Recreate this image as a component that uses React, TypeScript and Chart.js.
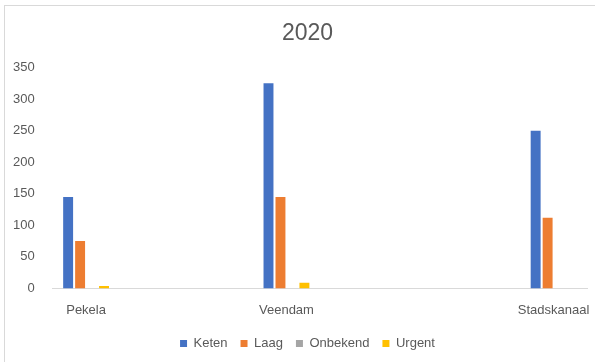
import React, { useEffect, useRef } from "react";
import Chart from "chart.js/auto";

const chartTitle = "2020";
const categories = ["Pekela", "", "", "Veendam", "", "", "", "Stadskanaal"];
const seriesNames = ["Keten", "Laag", "Onbekend", "Urgent"];
const keten = [145, null, null, 325, null, null, null, 250];
const laag = [75, null, null, 145, null, null, null, 112];
const onbekend = [0, null, null, 0, null, null, null, 0];
const urgent = [4, null, null, 9, null, null, null, 0];
const yMin = 0;
const yMax = 350;
const yStep = 50;

const colors = ["#4472C4", "#ED7D31", "#A5A5A5", "#FFC000"];
const FONT = "'Liberation Sans', Arial, sans-serif";
const TEXT = "#595959";
const CANVAS_W = 612;
const CANVAS_H = 362;

const frame = {
  id: "frame",
  beforeDraw(chart: any) {
    const { ctx, width, height } = chart;
    ctx.save();
    ctx.fillStyle = "#ffffff";
    ctx.fillRect(0, 0, width, height);
    ctx.restore();
  },
  afterDraw(chart: any) {
    const { ctx } = chart;
    ctx.save();
    ctx.strokeStyle = "#d9d9d9";
    ctx.lineWidth = 1;
    ctx.strokeRect(4.5, 5.5, 800, 800);
    ctx.restore();
  },
};

export default function App() {
  const ref = useRef<HTMLCanvasElement | null>(null);
  useEffect(() => {
    if (!ref.current) return;
    const all = [keten, laag, onbekend, urgent];
    const chart = new Chart(ref.current, {
      type: "bar",
      data: {
        labels: categories,
        datasets: seriesNames.map((name, i) => ({
          label: name,
          data: all[i],
          backgroundColor: colors[i],
          borderWidth: 0,
          categoryPercentage: 0.717,
          barPercentage: 0.83,
        })),
      },
      options: {
        animation: false,
        responsive: false,
        devicePixelRatio: 1,
        layout: { padding: { left: 3, right: 0, top: 0, bottom: 2 } },
        plugins: {
          title: {
            display: true,
            text: chartTitle,
            color: TEXT,
            font: { family: FONT, size: 23, weight: "normal" },
            padding: { top: 20, bottom: 20 },
          },
          legend: {
            position: "bottom",
            labels: {
              boxWidth: 7,
              boxHeight: 7,
              color: TEXT,
              font: { family: FONT, size: 13 },
              padding: 13,
            },
          },
          tooltip: { enabled: false },
        },
        scales: {
          x: {
            grid: { display: false },
            border: { color: "#d9d9d9" },
            ticks: {
              color: TEXT,
              font: { family: FONT, size: 13 },
              autoSkip: false,
              maxRotation: 0,
              padding: 6,
            },
          },
          y: {
            min: yMin,
            max: yMax,
            grid: { display: false },
            border: { display: false },
            ticks: {
              stepSize: yStep,
              color: TEXT,
              font: { family: FONT, size: 13 },
              padding: 10,
            },
          },
          spacer: {
            type: "linear",
            position: "right",
            display: true,
            grid: { display: false },
            border: { display: false },
            ticks: { display: false },
            afterFit: (s: any) => {
              s.width = 25;
            },
          },
        },
      },
      plugins: [frame],
    });
    return () => chart.destroy();
  }, []);
  return (
    <div style={{ position: "fixed", left: 0, top: 0, width: 595, height: 362, overflow: "hidden", background: "#fff" }}>
      <canvas ref={ref} width={CANVAS_W} height={CANVAS_H} style={{ display: "block" }} />
    </div>
  );
}
